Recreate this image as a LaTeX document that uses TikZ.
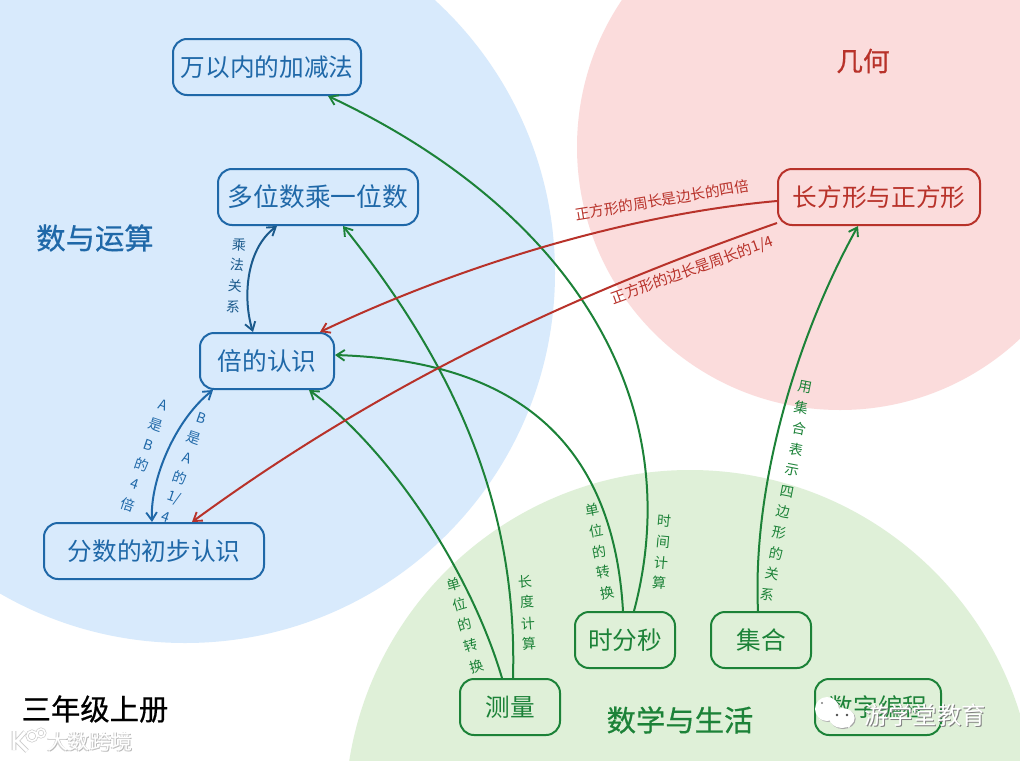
\documentclass[tikz,border=0pt]{standalone}
\usepackage{fontspec}
\usetikzlibrary{arrows.meta}
\setmainfont{Noto Sans CJK SC}
\newfontfamily\titlefont[FakeBold=0.6]{Noto Sans CJK SC}
\definecolor{bluefill}{HTML}{D8EAFC}
\definecolor{redfill}{HTML}{FBDCDC}
\definecolor{greenfill}{HTML}{DFF0D8}
\definecolor{bluec}{HTML}{1F68A8}
\definecolor{darkc}{HTML}{1B5A8C}
\definecolor{redc}{HTML}{B8322A}
\definecolor{greenc}{HTML}{1C8238}
\newcommand{\fs}[1]{\fontsize{#1}{#1}\selectfont}
\newcommand{\lowtxt}[1]{\raisebox{-1.5pt}{#1}}
\tikzset{
 x=0.75pt,y=-0.75pt,
 topic/.style={rectangle,rounded corners=10.5pt,draw,line width=1.5pt,inner sep=0pt,font=\fs{18.5pt},anchor=center},
 bluebox/.style={topic,draw=bluec,text=bluec},
 redbox/.style={topic,draw=redc,text=redc},
 greenbox/.style={topic,draw=greenc,text=greenc},
 title/.style={inner sep=0pt,font=\fs{22pt}\titlefont},
 edge/.style={line width=1.5pt,-{Straight Barb[length=6pt,width=8pt,line width=1.4pt]}},
 bothedge/.style={line width=1.5pt,{Straight Barb[length=6pt,width=8pt,line width=1.4pt]}-{Straight Barb[length=6pt,width=8pt,line width=1.4pt]}},
 lab/.style={inner sep=0pt,font=\fs{10.5pt}},
 wmtext/.style={inner sep=0pt,font=\fs{18.3pt}},
 wmsmall/.style={inner sep=0pt,font=\fs{15.8pt}},
}
\begin{document}
\begin{tikzpicture}
\useasboundingbox (0,0) rectangle (1020,760);
\clip (0,0) rectangle (1020,760);
\fill[white] (0,0) rectangle (1020,760);
% regions
\fill[bluefill] (185,273) circle (277.5pt);
\fill[redfill] (840,147) circle (197.25pt);
\fill[greenfill] (690,815) circle (258.75pt);
% titles
\node[title,text=bluec] (tsuan) at (95,238) {数与运算};
\node[title,text=redc,font=\fs{20pt}\titlefont] (tji) at (863,61) {几何};
\node[title,text=greenc] (tlife) at (680,720) {数学与生活};
\node[title,text=black] (tgrade) at (95,709) {三年级上册};
% topics
\node[bluebox,minimum width=141pt,minimum height=42pt] (wan) at (267,67) {\lowtxt{万以内的加减法}};
\node[bluebox,minimum width=150pt,minimum height=42pt,font=\fs{19.3pt}] (duo) at (318,197) {\lowtxt{多位数乘一位数}};
\node[bluebox,minimum width=100.5pt,minimum height=42pt] (bei) at (267,361) {\lowtxt{倍的认识}};
\node[bluebox,minimum width=165pt,minimum height=42pt] (fen) at (154,551) {\lowtxt{分数的初步认识}};
\node[redbox,minimum width=151.5pt,minimum height=42pt] (chang) at (879,197) {\lowtxt{长方形与正方形}};
\node[greenbox,minimum width=75pt,minimum height=42pt] (shi) at (625,640) {\lowtxt{时分秒}};
\node[greenbox,minimum width=75pt,minimum height=42pt] (ji) at (761,640) {\lowtxt{集合}};
\node[greenbox,minimum width=75pt,minimum height=42pt] (ce) at (510,707) {\lowtxt{测量}};
\node[greenbox,minimum width=94.5pt,minimum height=42pt] (bian) at (878,707) {\lowtxt{数字编程}};
% connectors
\draw[edge,greenc] ([xshift=2.25pt]ce.north) .. controls (518,500) and (450,360) .. ([xshift=18.75pt]duo.south);
\draw[edge,greenc] ([xshift=-6pt]ce.north) .. controls (470,570) and (390,450) .. ([xshift=31.5pt]bei.south);
\draw[edge,greenc] ([xshift=-1.5pt]shi.north) .. controls (612,420) and (490,360) .. ([yshift=4.5pt]bei.east);
\draw[edge,greenc] ([xshift=6.75pt]shi.north) .. controls (690,400) and (570,210) .. ([xshift=45.75pt]wan.south);
\draw[edge,greenc] ([xshift=-2.25pt]ji.north) .. controls (752,480) and (800,330) .. ([xshift=-15.75pt]chang.south);
\draw[edge,redc] ([yshift=-3pt]chang.west) .. controls (620,215) and (450,270) .. ([xshift=39.75pt]bei.north);
\draw[edge,redc] ([yshift=-19.5pt]chang.west) .. controls (600,285) and (400,370) .. ([xshift=28.5pt]fen.north);
\draw[bothedge,darkc] ([xshift=-30.75pt]duo.south) .. controls (245,250) and (243,300) .. ([xshift=-10.5pt]bei.north);
\draw[bothedge,bluec] ([xshift=-40.5pt]bei.south) .. controls (175,420) and (150,480) .. ([xshift=-1.5pt]fen.north);
% connector labels, one sign at a time along the curve
\foreach \x/\y/\c [count=\i] in {239/245/乘,237/265/法,235/286/关,233/307/系}
  \node[lab,text=darkc,rotate=-5] (la\i) at (\x,\y) {\c};
\foreach \x/\y/\c [count=\i] in {163/405/A,156/425/是,149/445/B,142/465/的,135/484/4,128/505/倍}
  \node[lab,text=bluec,rotate=-19] (lb\i) at (\x,\y) {\c};
\foreach \x/\y/\c [count=\i] in {202/418/B,194/438/是,187/458/A,180/478/的,174/498/{1/},166/517/4}
  \node[lab,text=bluec,rotate=-19] (lc\i) at (\x,\y) {\c};
\foreach \x/\y/\c [count=\i] in {454/584/单,460/604/位,465/624/的,471/645/转,477/666/换}
  \node[lab,text=greenc,rotate=16] (ld\i) at (\x,\y) {\c};
\foreach \x/\y/\c [count=\i] in {525/582/长,527/602/度,528/624/计,529/644/算}
  \node[lab,text=greenc,rotate=4] (le\i) at (\x,\y) {\c};
\foreach \x/\y/\c [count=\i] in {592/510/单,596/531/位,599/552/的,603/572/转,607/593/换}
  \node[lab,text=greenc,rotate=11] (lf\i) at (\x,\y) {\c};
\foreach \x/\y/\c [count=\i] in {664/521/时,663/542/间,661/563/计,659/583/算}
  \node[lab,text=greenc,rotate=-5] (lg\i) at (\x,\y) {\c};
\foreach \x/\y/\c [count=\i] in {805/387/用,801/408/集,799/429/合,796/450/表,792/470/示,787/492/四,783/512/边,779/533/形,776/553/的,772/574/关,767/595/系}
  \node[lab,text=greenc,rotate=-11] (lh\i) at (\x,\y) {\c};
\node[lab,text=redc,rotate=9.5,font=\fs{11pt}] (lr1) at (662,200) {正方形的周长是边长的四倍};
\node[lab,text=redc,rotate=20,font=\fs{11.2pt}] (lr2) at (692,270) {正方形的边长是周长的1/4};
% watermarks
\fill[gray!60] (828,710) ellipse (9pt and 9pt);
\fill[white] (827,709) ellipse (9pt and 9pt);
\fill[white] (819,720) -- (825,716) -- (822,713) -- cycle;
\fill[gray!70] (843,719) ellipse (9.5pt and 7.5pt);
\fill[white] (842,718) ellipse (9.5pt and 7.5pt);
\fill[white] (849,728) -- (852,722) -- (844,724) -- cycle;
\fill[black!70] (837,715) circle (1pt) (847,715) circle (1pt);
\fill[black!50] (822,703) circle (.8pt);
\node[wmtext,text=gray] (wm2s) at (926,716) {游学堂教育};
\node[wmtext,text=white] (wm2) at (925,715) {游学堂教育};
\node[wmsmall,text=gray!55] (wm1s) at (91,742) {大数跨境};
\node[wmsmall,text=gray!35] (wm1r) at (89,742) {大数跨境};
\node[wmsmall,text=white] (wm1) at (90,741) {大数跨境};
\draw[gray!40,line width=3.5pt] (14,731) -- (14,750) (25,732) -- (17,741) -- (27,751);
\draw[white,line width=2.2pt] (14,731) -- (14,750) (25,732) -- (17,741) -- (27,751);
\draw[gray!40,line width=2.2pt] (32,736) circle (3.75pt) (41,733) circle (3pt);
\draw[white,line width=1.2pt] (32,736) circle (3.75pt) (41,733) circle (3pt);
\end{tikzpicture}
\end{document}
